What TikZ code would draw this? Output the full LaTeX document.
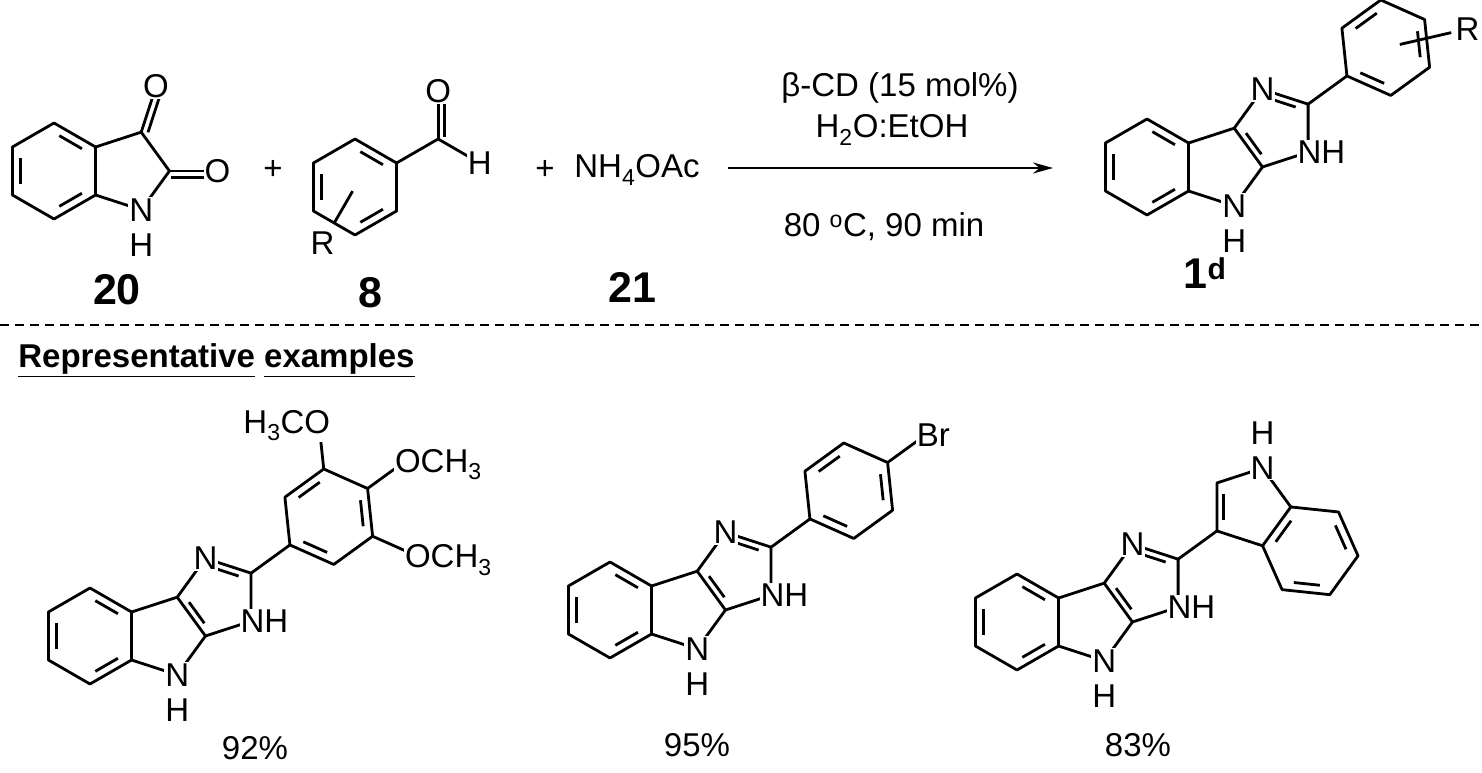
\documentclass[tikz,border=0pt]{standalone}
\usepackage{fontspec}
\setmainfont{Liberation Sans}
\usetikzlibrary{calc,arrows.meta}

% inner line of a ring double bond
\newcommand\ring[3]{\draw ($(#1)!.16!(#2)!.2!(#3)$) -- ($(#2)!.16!(#1)!.2!(#3)$);}
% outer line of a C=O bond
\newcommand\carbonyl[2]{\draw (#1) -- (#2); \draw[shorten <=2pt] ($(#1)!6.5pt!-90:(#2)$) -- ($(#2)!6.5pt!90:(#1)$);}

% indole-imidazole core, benzene centre at (#2,#3)
\newcommand\core[3]{%
\begin{scope}[shift={(#2,#3)},x=48pt,y=48pt]
  \coordinate (#1b1) at (0,1);        \coordinate (#1b2) at (0.866,0.5);
  \coordinate (#1b3) at (0.866,-0.5); \coordinate (#1b4) at (0,-1);
  \coordinate (#1b5) at (-0.866,-0.5);\coordinate (#1b6) at (-0.866,0.5);
  \coordinate (#1c3a) at (1.817,0.809);\coordinate (#1c8a) at (2.405,0);
  \coordinate (#1n4) at (1.817,-0.809);\coordinate (#1n1) at (2.405,1.618);
  \coordinate (#1c2) at (3.356,1.309); \coordinate (#1n3) at (3.356,0.309);
  \coordinate (#1m0) at (0,0); \coordinate (#1m2) at (2.668,0.809);
  \coordinate (#1sub) at (4.165,1.897);
\end{scope}
\draw (#1b1) -- (#1b2) -- (#1b3) -- (#1b4) -- (#1b5) -- (#1b6) -- cycle;
\draw (#1b2) -- (#1c3a) -- (#1c8a) -- (#1n4) -- (#1b3);
\draw (#1c3a) -- (#1n1) -- (#1c2) -- (#1n3) -- (#1c8a);
\draw (#1c2) -- (#1sub);
\ring{#1b1}{#1b2}{#1m0} \ring{#1b5}{#1b6}{#1m0} \ring{#1b3}{#1b4}{#1m0}
\ring{#1c3a}{#1c8a}{#1m2} \ring{#1n1}{#1c2}{#1m2}
\node[atom] (#1N1) at (#1n1) {N};
\node[atom,anchor=base west,xshift=-12.9pt,yshift=-11.8pt] (#1N3) at (#1n3) {NH};
\node[atom] (#1N4) at (#1n4) {N};
\node[atom,yshift=-35pt] (#1H4) at (#1n4) {H};
}

% 2-aryl ring on the core
\newcommand\phenyl[3]{%
\begin{scope}[shift={(#2,#3)},x=48pt,y=48pt]
  \coordinate (#1pc) at (4.974,2.485);
  \foreach \i/\a in {1/216,2/276,3/336,4/36,5/96,6/156}{
    \coordinate (#1p\i) at ($(4.974,2.485)+(\a:1)$);
    \coordinate (#1q\i) at ($(4.974,2.485)+(\a:2)$);
  }
\end{scope}
\draw (#1p1) -- (#1p2) -- (#1p3) -- (#1p4) -- (#1p5) -- (#1p6) -- cycle;
\ring{#1p6}{#1p5}{#1pc} \ring{#1p4}{#1p3}{#1pc} \ring{#1p1}{#1p2}{#1pc}
}

\begin{document}
\begin{tikzpicture}[x=1pt,y=-1pt,line width=2.8pt,line join=round]
  \tikzstyle{atom}=[fill=white,inner sep=1pt,font=\fontsize{33}{38}\selectfont]
  \tikzstyle{txt}=[inner sep=1pt,font=\fontsize{33}{38}\selectfont]
  \tikzstyle{cmpd}=[inner sep=1pt,font=\fontsize{43}{48}\selectfont\bfseries]
  \useasboundingbox (0,0) rectangle (1482,773);

  % isatin 20
  \begin{scope}[shift={(54,171)},x=48pt,y=48pt]
    \coordinate (ib1) at (0,1);        \coordinate (ib2) at (0.866,0.5);
    \coordinate (ib3) at (0.866,-0.5); \coordinate (ib4) at (0,-1);
    \coordinate (ib5) at (-0.866,-0.5);\coordinate (ib6) at (-0.866,0.5);
    \coordinate (ic3) at (1.817,0.809); \coordinate (ic2) at (2.405,0);
    \coordinate (in1) at (1.817,-0.809);\coordinate (im0) at (0,0);
    \coordinate (io3) at (2.126,1.76);  \coordinate (io2) at (3.405,0);
  \end{scope}
  \draw (ib1) -- (ib2) -- (ib3) -- (ib4) -- (ib5) -- (ib6) -- cycle;
  \draw (ib2) -- (ic3) -- (ic2) -- (in1) -- (ib3);
  \ring{ib1}{ib2}{im0} \ring{ib5}{ib6}{im0} \ring{ib3}{ib4}{im0}
  \carbonyl{ic3}{io3} \carbonyl{ic2}{io2}
  \node[atom] (iO3) at (io3) {O};
  \node[atom] (iO2) at (io2) {O};
  \node[atom] (iN1) at (in1) {N};
  \node[atom,yshift=-35pt] (iH1) at (in1) {H};
  \node[cmpd] (n20) at (117,290) {20};

  \node[txt] (plus1) at (273,170) {+};

  % aldehyde 8
  \begin{scope}[shift={(355,187)},x=48pt,y=48pt]
    \coordinate (ab1) at (0,1);        \coordinate (ab2) at (0.866,0.5);
    \coordinate (ab3) at (0.866,-0.5); \coordinate (ab4) at (0,-1);
    \coordinate (ab5) at (-0.866,-0.5);\coordinate (ab6) at (-0.866,0.5);
    \coordinate (am0) at (0,0);
    \coordinate (acho) at (1.732,1); \coordinate (ao) at (1.732,2);
    \coordinate (ah) at (2.598,0.5);
    \coordinate (ar1) at (240:0.1); \coordinate (ar2) at (240:0.85);
    \coordinate (ar) at (240:1.35);
  \end{scope}
  \draw (ab1) -- (ab2) -- (ab3) -- (ab4) -- (ab5) -- (ab6) -- cycle;
  \ring{ab1}{ab2}{am0} \ring{ab5}{ab6}{am0} \ring{ab3}{ab4}{am0}
  \draw (ab2) -- (acho) -- (ah);
  \carbonyl{acho}{ao}
  \draw (ar1) -- (ar2);
  \node[atom] (aO) at (ao) {O};
  \node[atom] (aH) at (ah) {H};
  \node[atom] (aR) at (ar) {R};
  \node[cmpd] (n8) at (370,293) {8};

  \node[txt] (plus2) at (545,170) {+};
  \node[txt] (amm) at (637,170) {NH\textsubscript{4}OAc};
  \node[cmpd] (n21) at (632,287) {21};

  % arrow and conditions
  \coordinate (arrS) at (728,168);
  \coordinate (arrE) at (1053,168);
  \draw[line width=2pt,-{Stealth[length=20pt,width=11pt]}] (arrS) -- (arrE);
  \node[txt] (cond1) at (900,88) {β-CD (15 mol\%)};
  \node[txt] (cond2) at (892,130) {H\textsubscript{2}O:EtOH};
  \node[txt] (cond3) at (884,227) {80 \textsuperscript{o}C, 90 min};

  % product 1d
  \core{P}{1147}{167}
  \phenyl{P}{1147}{167}
  \begin{scope}[shift={(1147,167)},x=48pt,y=48pt]
    \coordinate (Pr1) at ($(4.974,2.485)+(13:0.3)$);
    \coordinate (Pr2) at ($(4.974,2.485)+(13:1.4)$);
    \coordinate (Pr) at ($(4.974,2.485)+(13:1.75)$);
  \end{scope}
  \draw (Pr1) -- (Pr2);
  \node[atom] (PR) at (Pr) {R};
  \node[cmpd] (n1d) at (1205,273) {1\textsuperscript{d}};

  % separator
  \coordinate (sepL) at (0,325);
  \coordinate (sepR) at (1482,325);
  \draw[line width=1.6pt,dash pattern=on 9pt off 6pt] (sepL) -- (sepR);
  \node[txt,anchor=west,font=\fontsize{33}{38}\selectfont\bfseries] (rep) at (16,360)
    {\underline{Representative} \underline{examples}};

  % example 1
  \core{A}{90}{636}
  \phenyl{A}{90}{636}
  \draw (Ap5) -- (Aq5) (Ap4) -- (Aq4) (Ap3) -- (Aq3);
  \node[atom,anchor=base east,xshift=13.8pt,yshift=-11.8pt] (AO5) at (Aq5) {H\textsubscript{3}CO};
  \node[atom,anchor=base west,xshift=-13.8pt,yshift=-11.8pt] (AO4) at (Aq4) {OCH\textsubscript{3}};
  \node[atom,anchor=base west,xshift=-13.8pt,yshift=-11.8pt] (AO3) at (Aq3) {OCH\textsubscript{3}};
  \node[txt] (y1) at (255,748) {92\%};

  % example 2
  \core{B}{610}{610}
  \phenyl{B}{610}{610}
  \draw (Bp4) -- (Bq4);
  \node[atom,anchor=base west,xshift=-12pt,yshift=-11.8pt] (BBr) at (Bq4) {Br};
  \node[txt] (y2) at (697,745) {95\%};

  % example 3
  \core{C}{1017}{622}
  \begin{scope}[shift={(1017,622)},x=48pt,y=48pt]
    \coordinate (Cv1) at (4.165,2.897); \coordinate (Cv2) at (5.116,3.206);
    \coordinate (Cv3) at (5.704,2.397); \coordinate (Cv4) at (5.116,1.588);
    \coordinate (Cpc) at (4.853,2.397); \coordinate (Cbc) at (6.110,1.483);
    \foreach \i/\a in {1/234,2/294,3/354,4/54}{
      \coordinate (Cw\i) at ($(6.110,1.483)+(\a:1)$);
    }
  \end{scope}
  \draw (Csub) -- (Cv1) -- (Cv2) -- (Cv3) -- (Cv4) -- cycle;
  \draw (Cv3) -- (Cw4) -- (Cw3) -- (Cw2) -- (Cw1) -- (Cv4);
  \ring{Csub}{Cv1}{Cpc} \ring{Cv3}{Cv4}{Cbc} \ring{Cw4}{Cw3}{Cbc} \ring{Cw2}{Cw1}{Cbc}
  \node[atom] (CN) at (Cv2) {N};
  \node[atom,yshift=35pt] (CH) at (Cv2) {H};
  \node[txt] (y3) at (1138,745) {83\%};
\end{tikzpicture}
\end{document}
